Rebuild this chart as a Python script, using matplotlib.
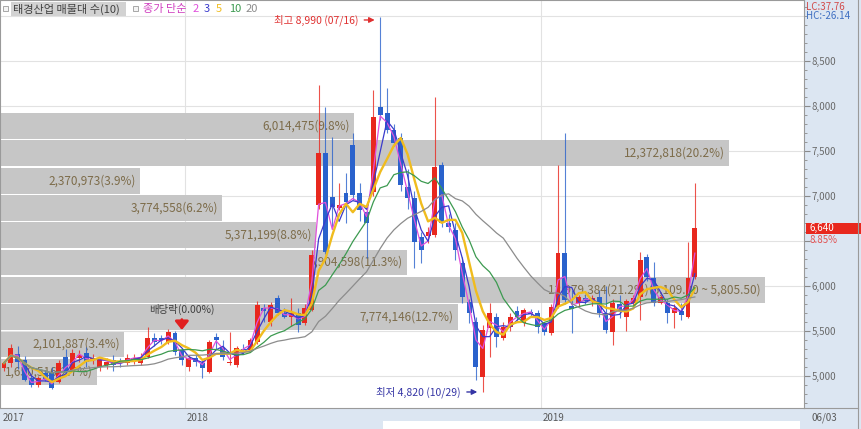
import matplotlib
matplotlib.use('Agg')
import matplotlib.pyplot as plt
import matplotlib.transforms as mtransforms
from matplotlib.patches import Rectangle
from matplotlib.lines import Line2D
from matplotlib.ticker import MultipleLocator, FixedLocator, FuncFormatter
import pandas as pd

plt.rcParams['font.family'] = ['Noto Sans CJK KR', 'DejaVu Sans']

# weekly candles, 2017-07 .. 2019-06-03
opens = [5090, 5144, 5240, 5178, 4978, 4900, 5033, 5044, 4933, 5211,
         5067, 5200, 5255, 5180, 5100, 5120, 5178, 5170, 5144, 5155,
         5144, 5211, 5420, 5420, 5380, 5478, 5290, 5100, 5200, 5140,
         5044, 5433, 5311, 5140, 5122, 5300, 5290, 5378, 5760, 5600,
         5867, 5700, 5660, 5700, 5589, 5733, 6900, 7478, 6989, 6870,
         7033, 7567, 7033, 6822, 7044, 7989, 7922, 7733, 7644, 7100,
         6978, 6540, 6560, 6567, 7344, 6700, 6622, 6255, 5822, 5600,
         4989, 5533, 5655, 5422, 5544, 5722, 5589, 5710, 5700, 5589,
         5478, 5767, 6367, 5780, 5811, 5870, 5830, 5878, 5700, 5489,
         5800, 5660, 5811, 5878, 6322, 6089, 5811, 5811, 5700, 5720,
         5655, 6100]
highs = [5170, 5350, 5330, 5220, 5010, 5000, 5070, 5100, 5180, 5300,
         5300, 5290, 5320, 5240, 5200, 5200, 5230, 5200, 5240, 5240,
         5250, 5545, 5480, 5460, 5520, 5500, 5310, 5230, 5230, 5180,
         5400, 5480, 5400, 5490, 5330, 5350, 5420, 5830, 5800, 5820,
         5900, 5760, 5870, 5760, 5800, 6400, 8233, 7989, 7656, 7144,
         7255, 7700, 7144, 6850, 8178, 8990, 8200, 7800, 7700, 7300,
         7050, 6600, 6650, 8100, 7380, 6800, 6700, 6322, 5850, 5650,
         5570, 5811, 5700, 5600, 5700, 5780, 5760, 5740, 5730, 5600,
         5800, 7344, 7700, 5955, 5900, 5900, 5900, 5950, 6000, 5850,
         5900, 5850, 5900, 6378, 6350, 6267, 5900, 5850, 5800, 5811,
         6489, 7144]
lows = [5050, 5100, 5080, 4940, 4880, 4880, 4940, 4850, 4920, 5020,
        5050, 5150, 5100, 5130, 5050, 5080, 5050, 5100, 5120, 5130,
        5120, 5200, 5330, 5360, 5350, 5230, 5120, 5050, 5110, 4978,
        5030, 5300, 5180, 5120, 5100, 5240, 5270, 5360, 5600, 5560,
        5680, 5640, 5560, 5490, 5570, 5720, 6850, 6350, 6655, 6844,
        6700, 6960, 6720, 6311, 7000, 7850, 7700, 7550, 7050, 6850,
        6200, 6250, 6480, 6540, 6650, 6600, 6290, 5811, 5589, 4956,
        4820, 5211, 5322, 5400, 5500, 5620, 5560, 5650, 5480, 5450,
        5450, 5750, 5800, 5478, 5780, 5800, 5780, 5650, 5480, 5344,
        5640, 5500, 5790, 5620, 6050, 5780, 5800, 5589, 5533, 5622,
        5640, 6080]
closes = [5144, 5311, 5150, 4956, 4900, 4978, 4956, 4870, 5144, 5044,
          5255, 5233, 5155, 5200, 5178, 5155, 5120, 5155, 5200, 5200,
          5211, 5420, 5378, 5400, 5490, 5267, 5178, 5200, 5160, 5090,
          5378, 5400, 5211, 5155, 5311, 5290, 5400, 5790, 5720, 5790,
          5700, 5660, 5700, 5570, 5755, 6340, 7478, 6378, 6878, 6900,
          6933, 7011, 6844, 6700, 7878, 7900, 7733, 7589, 7122, 6978,
          6489, 6400, 6600, 7322, 6700, 6650, 6400, 5878, 5700, 5100,
          5511, 5700, 5433, 5544, 5655, 5655, 5733, 5690, 5544, 5489,
          5767, 6367, 5844, 5740, 5878, 5830, 5870, 5700, 5511, 5811,
          5730, 5830, 5870, 6289, 6100, 5811, 5878, 5700, 5755, 5680,
          6089, 6640]

high_idx, low_idx, ex_div_idx = 55, 70, 26
year_names = ['2017', '2018', '2019']
year_idx = [0, 27, 79]
last_date = '06/03'

# volume profile (10 price bands)
band_lo = [4895, 5198.5, 5502, 5805.5, 6109, 6412.5, 6716, 7019.5, 7323, 7626.5]
band_step = 303.5
band_vol = [1650516, 2101887, 7774146, 12979384, 6904598,
            5371199, 3774558, 2370973, 12372818, 6014475]
band_pct = [2.7, 3.4, 12.7, 21.2, 11.3, 8.8, 6.2, 3.9, 20.2, 9.8]

ma_periods = [2, 3, 5, 10, 20]
ma_colors = ['#e050dc', '#3a3acc', '#f0bc1e', '#3c9a50', '#8c8c8c']
ma_widths = [0.9, 0.9, 1.7, 0.9, 0.9]

RED, BLUE = '#e8281e', '#2a62cc'

W, H = 861, 429
fig = plt.figure(figsize=(W / 100, H / 100), dpi=100)
fig.patch.set_facecolor('#dce6f2')
ax = fig.add_axes([0, 21 / H, 804 / W, 408 / H])
ax.set_xlim(-0.585, 116.96)
ax.set_ylim(4644, 9178)


def fx(px):
    return px / W


def fy(py):
    return 1 - py / H


# grid
for p in range(5000, 9001, 500):
    ax.axhline(p, color='#e2e2e2', lw=0.8, zorder=0)
for i in year_idx[1:]:
    ax.axvline(i - 0.5, color='#e2e2e2', lw=0.8, zorder=0)

# volume profile bars
tr = mtransforms.blended_transform_factory(ax.transAxes, ax.transData)
vmax = max(band_vol)
for lo, v, p in zip(band_lo, band_vol, band_pct):
    w = v / vmax * 0.951
    ax.add_patch(Rectangle((0, lo + 8), w, band_step - 16, transform=tr,
                           facecolor='#c6c6c6', edgecolor='none', zorder=1))
    label = f'{v:,}({p}%)'
    if v == vmax:
        label += f'({lo + band_step:,.2f} ~ {lo:,.2f})'
    ax.text(w - 0.005, lo + band_step / 2, label, transform=tr, ha='right',
            va='center', fontsize=8.5, color='#7d6c4a', zorder=1.5)

# candles
x = list(range(len(closes)))
cols = [RED if c >= o else BLUE for o, c in zip(opens, closes)]
bottoms = [min(o, c) for o, c in zip(opens, closes)]
heights = [max(abs(c - o), 14) for o, c in zip(opens, closes)]
ax.vlines(x, lows, highs, colors=cols, lw=0.8, alpha=0.8, zorder=3)
ax.bar(x, heights, bottom=bottoms, width=0.72, color=cols, lw=0, zorder=3.1)

# moving averages
s = pd.Series(closes)
for n, c, lw in zip(ma_periods, ma_colors, ma_widths):
    ax.plot(x, s.rolling(n, min_periods=1).mean(), color=c, lw=lw, zorder=4)

# right price axis
ax.yaxis.tick_right()
ax.yaxis.set_major_locator(FixedLocator(list(range(5000, 9000, 500))))
ax.yaxis.set_major_formatter(FuncFormatter(lambda v, _: '' if v == 6500 else f'{int(v):,}'))
ax.yaxis.set_minor_locator(MultipleLocator(100))
ax.tick_params(axis='y', which='major', direction='out', length=4, width=0.8,
               color='#8a8a8a', labelcolor='#6a6a6a', labelsize=7, pad=1.5)
ax.tick_params(axis='y', which='minor', direction='out', length=2, width=0.6,
               color='#8a8a8a')
ax.set_xticks([])
for sp in ax.spines.values():
    sp.set_color('#9a9a9a')
    sp.set_linewidth(0.8)

# high / low / ex-dividend marks
ax.annotate('', xy=(high_idx - 0.4, 8956), xytext=(-16, 0), textcoords='offset pixels',
            arrowprops=dict(arrowstyle='-|>', color='#e03030', lw=1, mutation_scale=8))
ax.annotate(f'최고 {highs[high_idx]:,} (07/16)', xy=(high_idx - 0.4, 8956), xytext=(-19, 0),
            textcoords='offset pixels', ha='right', va='center', fontsize=7.5, color='#e03030')
ax.annotate('', xy=(low_idx - 0.4, 4822), xytext=(-16, 0), textcoords='offset pixels',
            arrowprops=dict(arrowstyle='-|>', color='#3535a5', lw=1, mutation_scale=8))
ax.annotate(f'최저 {lows[low_idx]:,} (10/29)', xy=(low_idx - 0.4, 4822), xytext=(-19, 0),
            textcoords='offset pixels', ha='right', va='center', fontsize=7.5, color='#3535a5')
ax.annotate('', xy=(ex_div_idx, 5480), xytext=(0, 16), textcoords='offset pixels',
            arrowprops=dict(arrowstyle='-|>,head_width=0.4,head_length=0.5', color='#e02020',
                            lw=2, mutation_scale=10), zorder=5)
ax.annotate('배당락(0.00%)', xy=(ex_div_idx, 5480), xytext=(0, 23), textcoords='offset pixels',
            ha='center', va='center', fontsize=7.5, color='#404040', zorder=5)

# header
fig.patches.append(Rectangle((fx(11), fy(16)), 115 / W, 14 / H, transform=fig.transFigure,
                             facecolor='#d2d2d2', edgecolor='none'))
for px in (3, 133):
    fig.patches.append(Rectangle((fx(px), fy(11)), 5 / W, 5 / H, transform=fig.transFigure,
                                 facecolor='#f4f4f4', edgecolor='#9a9a9a', lw=0.6))
fig.text(fx(13), fy(9), '태경산업 매물대 수(10)', fontsize=8, color='#404040', va='center')
fig.text(fx(143), fy(9), '종가 단순', fontsize=8, color='#d040c0', va='center')
for px, n, c in zip([193, 204, 216, 229, 246], ma_periods, ma_colors):
    fig.text(fx(px), fy(9), str(n), fontsize=8, color=c, va='center')

# right panel texts
fig.text(fx(806), fy(7), 'LC:37.76', fontsize=7, color='#d24c4c', va='center')
fig.text(fx(806), fy(16), 'HC:-26.14', fontsize=7, color='#3f6fc2', va='center')
trp = mtransforms.blended_transform_factory(fig.transFigure, ax.transData)
last = closes[-1]
fig.patches.append(Rectangle((fx(806), last - 58), 55 / W, 116, transform=trp,
                             facecolor=RED, edgecolor='none'))
fig.text(fx(809), last, f'{last:,}', transform=trp, fontsize=7, color='white', va='center')
fig.text(fx(809), last - 125, '8.85%', transform=trp, fontsize=7, color='#e05050', va='center')

# bottom date strip
trb = mtransforms.blended_transform_factory(ax.transData, fig.transFigure)
for name, i in zip(year_names, year_idx):
    ax.text(i - 0.25, fy(418), name, transform=trb, fontsize=7, color='#5a5a5a',
            va='center', ha='left', clip_on=False)
fig.text(fx(812), fy(418), last_date, fontsize=7, color='#5a5a5a', va='center')
fig.patches.append(Rectangle((fx(383), 0), 417 / W, 8 / H, transform=fig.transFigure,
                             facecolor='white', edgecolor='none'))
fig.lines.append(Line2D([fx(804), fx(858)], [fy(408), fy(408)], transform=fig.transFigure,
                        color='#9a9a9a', lw=0.8))
fig.lines.append(Line2D([fx(858), fx(858)], [0, 1], transform=fig.transFigure,
                        color='#9a9a9a', lw=0.8))

fig.savefig('out.png', dpi=100, facecolor=fig.get_facecolor())
